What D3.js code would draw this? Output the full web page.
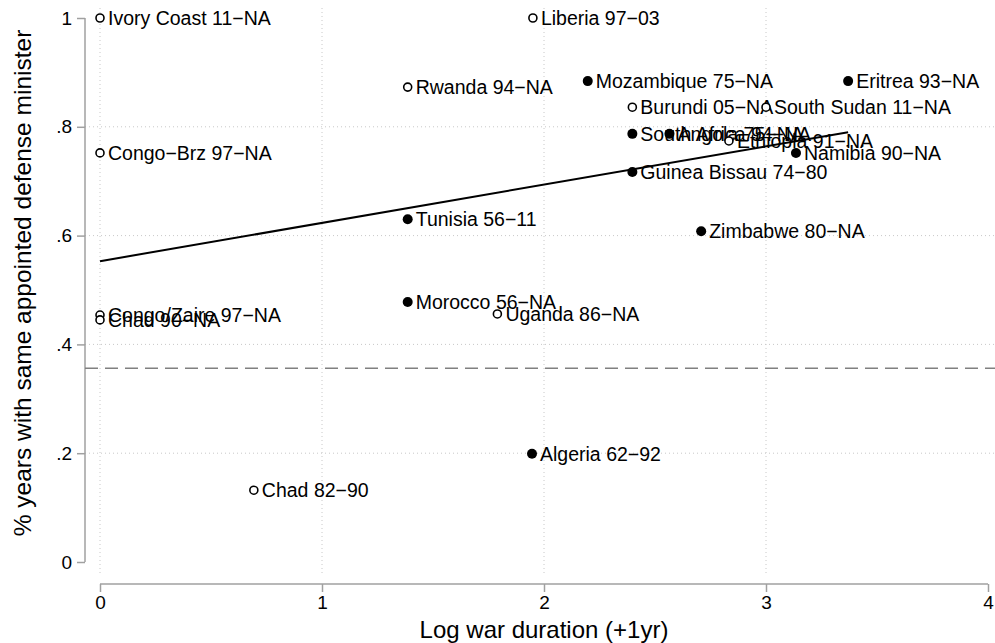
<!DOCTYPE html>
<html>
<head>
<meta charset="utf-8">
<script src="https://cdn.jsdelivr.net/npm/d3@7"></script>
<style>
  body { margin: 0; background: #fff; }
  svg { font-family: "Liberation Sans", Arial, sans-serif; }
</style>
</head>
<body>
<svg id="chart" width="995" height="643"></svg>
<script>
// scatter of defense minister tenure vs war duration
const countries = ["Ivory Coast 11\u2212NA", "Liberia 97\u221203", "Rwanda 94\u2212NA", "Mozambique 75\u2212NA",
  "Eritrea 93\u2212NA", "Burundi 05\u2212NA", "South Sudan 11\u2212NA", "Congo\u2212Brz 97\u2212NA",
  "South Africa 94\u2212NA", "Angola 75\u2212NA", "Ethiopia 91\u2212NA", "Namibia 90\u2212NA",
  "Guinea Bissau 74\u221280", "Tunisia 56\u221211", "Zimbabwe 80\u2212NA", "Morocco 56\u2212NA",
  "Uganda 86\u2212NA", "Congo/Zaire 97\u2212NA", "Chad 90\u2212NA", "Algeria 62\u221292", "Chad 82\u221290"]
const warDuration = [0, 1.95, 1.386, 2.197, 3.37, 2.398, 3.0, 0, 2.398, 2.565, 2.833, 3.135,
  2.398, 1.386, 2.708, 1.386, 1.79, 0, 0, 1.946, 0.693]
const sameMinister = [1.0, 1.0, 0.873, 0.884, 0.884, 0.836, 0.836, 0.752, 0.787, 0.787, 0.774, 0.752,
  0.717, 0.630, 0.608, 0.478, 0.456, 0.454, 0.445, 0.199, 0.132]
// 1 = filled marker, 0 = hollow marker
const filled = [0, 0, 0, 1, 1, 0, 0, 0, 1, 1, 0, 1, 1, 1, 1, 1, 0, 0, 0, 1, 0]

const xTicks = [0, 1, 2, 3, 4]
const yTicks = [0, 0.2, 0.4, 0.6, 0.8, 1]
const yTickLabels = ["0", ".2", ".4", ".6", ".8", "1"]
const fitLine = [[0, 0.553], [3.37, 0.790]]
const refLine = 0.356

const svg = d3.select('#chart')

const x = d3.scaleLinear().domain([0, 4]).range([100, 988])
const y = d3.scaleLinear().domain([0, 1]).range([562, 18])

const rows = countries.map(function(c, i) {
  return {name: c, x: warDuration[i], y: sameMinister[i], filled: filled[i]}
})

// gridlines
svg.append('g')
    .selectAll('line')
    .data(yTicks.filter(function(d) { return d > 0 && d < 1 }))
    .enter().append('line')
    .attr('x1', 85).attr('x2', 995)
    .attr('y1', function(d) { return y(d) })
    .attr('y2', function(d) { return y(d) })
    .attr('stroke', '#c8c8c8')
    .attr('stroke-width', 1)
    .attr('stroke-dasharray', '1,3')

svg.append('g')
    .selectAll('line')
    .data(xTicks.filter(function(d) { return d < 4 }))
    .enter().append('line')
    .attr('x1', function(d) { return x(d) })
    .attr('x2', function(d) { return x(d) })
    .attr('y1', 8).attr('y2', 574)
    .attr('stroke', '#c8c8c8')
    .attr('stroke-width', 1)
    .attr('stroke-dasharray', '1,3')

// y axis
const yAxis = svg.append('g')
    .attr('transform', 'translate(85,0)')
    .call(d3.axisLeft(y).tickValues(yTicks).tickSize(8).tickPadding(5)
        .tickFormat(function(d, i) { return yTickLabels[i] }))
yAxis.select('.domain').attr('stroke', '#a0a0a0').attr('stroke-width', 1.5)
    .attr('d', 'M0,' + y(0) + 'V' + y(1))
yAxis.selectAll('.tick line').attr('stroke', '#a0a0a0').attr('stroke-width', 1.5)
yAxis.selectAll('.tick text').attr('font-size', 19).attr('fill', '#000')
    .attr('font-family', '"Liberation Sans", Arial, sans-serif')

// x axis
const xAxis = svg.append('g')
    .attr('transform', 'translate(0,584)')
    .call(d3.axisBottom(x).tickValues(xTicks).tickSize(8).tickPadding(4)
        .tickFormat(d3.format('d')))
xAxis.select('.domain').attr('stroke', '#a0a0a0').attr('stroke-width', 1.5)
    .attr('d', 'M' + x(0) + ',0H' + x(4))
xAxis.selectAll('.tick line').attr('stroke', '#a0a0a0').attr('stroke-width', 1.5)
xAxis.selectAll('.tick text').attr('font-size', 19).attr('fill', '#000')
    .attr('font-family', '"Liberation Sans", Arial, sans-serif')

// axis titles
svg.append('text')
    .attr('x', x(2)).attr('y', 638)
    .attr('text-anchor', 'middle')
    .attr('font-size', 24)
    .text('Log war duration (+1yr)')

svg.append('text')
    .attr('transform', 'translate(31,283) rotate(-90)')
    .attr('text-anchor', 'middle')
    .attr('font-size', 24.5)
    .text('% years with same appointed defense minister')

// reference line
svg.append('line')
    .attr('x1', 85).attr('x2', 995)
    .attr('y1', y(refLine)).attr('y2', y(refLine))
    .attr('stroke', '#808080')
    .attr('stroke-width', 1.5)
    .attr('stroke-dasharray', '13,7')

// fitted line
svg.append('path')
    .datum(fitLine)
    .attr('fill', 'none')
    .attr('stroke', '#000')
    .attr('stroke-width', 2)
    .attr('d', d3.line().x(function(d) { return x(d[0]) }).y(function(d) { return y(d[1]) }))

// markers
const pts = svg.append('g')
    .selectAll('g')
    .data(rows)
    .enter().append('g')
    .attr('transform', function(d) { return 'translate(' + x(d.x) + ',' + y(d.y) + ')' })

pts.append('circle')
    .attr('r', function(d) { return d.filled ? 5 : 4 })
    .attr('fill', function(d) { return d.filled ? '#000' : '#fff' })
    .attr('stroke', '#000')
    .attr('stroke-width', function(d) { return d.filled ? 0 : 1.6 })

pts.append('text')
    .attr('x', 8).attr('dy', '0.35em')
    .attr('font-size', 19.5)
    .text(function(d) { return d.name })
</script>
</body>
</html>
